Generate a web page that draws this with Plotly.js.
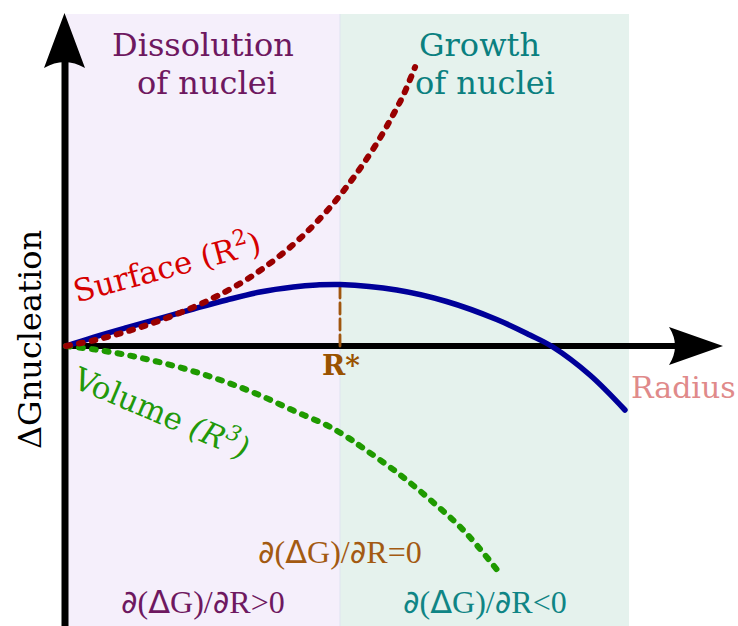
<!DOCTYPE html>
<html>
<head>
<meta charset="utf-8">
<script src="https://cdn.plot.ly/plotly-3.0.1.min.js"></script>
<style>
html,body{margin:0;padding:0;background:#fff;}
#chart{width:738px;height:626px;}
#chart .scatterlayer path.js-line{stroke-linecap:round !important;}
</style>
</head>
<body>
<div id="chart"></div>
<script>
// ---- Data (radius R in units of R*, free energy in arbitrary units) ----
const surfaceR = [0, 0.0996, 0.222, 0.343, 0.465, 0.550, 0.647, 0.733, 0.830, 0.903, 0.976, 1.036, 1.085, 1.146, 1.194, 1.231, 1.274];
const surfaceG = [0, 0.055, 0.145, 0.255, 0.388, 0.498, 0.644, 0.803, 1.016, 1.206, 1.426, 1.635, 1.821, 2.080, 2.313, 2.508, 2.790];

const totalR = [0, 0.0996, 0.2215, 0.343, 0.4646, 0.5865, 0.708, 0.8296, 0.915, 1.0, 1.207, 1.389, 1.572, 1.693, 1.777, 1.912, 2.040];
const totalG = [0, 0.087, 0.184, 0.277, 0.370, 0.460, 0.540, 0.590, 0.610, 0.615, 0.560, 0.445, 0.265, 0.110, -0.010, -0.290, -0.640];

const volumeR = [0, 0.0996, 0.222, 0.343, 0.465, 0.587, 0.708, 0.830, 0.952, 1.025, 1.085, 1.207, 1.328, 1.450, 1.578];
const volumeG = [0, -0.033, -0.090, -0.163, -0.253, -0.363, -0.493, -0.646, -0.793, -0.909, -1.022, -1.262, -1.535, -1.841, -2.254];

const criticalR = [1, 1];
const criticalG = [0, 0.59];

const regionEdges = [0, 1, 2.055];   // dissolution | growth
const regionLabels = ["Dissolution", "of nuclei", "Growth", "of nuclei"];
const derivLabels = ["∂(ΔG)/∂R>0", "∂(ΔG)/∂R=0", "∂(ΔG)/∂R<0"];

// ---- layout helpers: pixel -> data ----
const X0 = 66, SX = 274, Y0 = 346, SY = 100;
const dx = p => (p - X0) / SX;
const dy = p => (Y0 - p) / SY;

const SERIF = "DejaVu Serif";
function dtext(s){
  return s.replace(/∂/g,'<span style="font-family:DejaVu Sans">∂</span>')
          .replace(/Δ/g,'<span style="font-family:DejaVu Sans">Δ</span>');
}

const traces = [
  {x: criticalR, y: criticalG, mode:'lines', line:{color:'#a0560e', width:2.8, dash:'11px,5px'}, hoverinfo:'skip'},
  {x: volumeR, y: volumeG, mode:'lines', line:{color:'#1f9a00', width:6, dash:'4px,9px', shape:'spline'}, hoverinfo:'skip'},
  {x: totalR, y: totalG, mode:'lines', line:{color:'#000099', width:5.5, shape:'spline'}, hoverinfo:'skip'},
  {x: surfaceR, y: surfaceG, mode:'lines', line:{color:'#990000', width:6, dash:'4px,9px', shape:'spline'}, hoverinfo:'skip'}
];

const shapes = [
  {type:'rect', layer:'below', xref:'x', yref:'y', x0:regionEdges[0], x1:regionEdges[1], y0:dy(640), y1:dy(14), fillcolor:'#f5effb', line:{width:0}},
  {type:'rect', layer:'below', xref:'x', yref:'y', x0:regionEdges[1], x1:regionEdges[2], y0:dy(640), y1:dy(14), fillcolor:'#e5f2ed', line:{width:0}},
  {type:'line', layer:'below', xref:'x', yref:'y', x0:regionEdges[1], x1:regionEdges[1], y0:dy(640), y1:dy(14), line:{color:'#dfe3f0', width:1}},
  // axes
  {type:'line', layer:'below', xref:'x', yref:'y', x0:dx(65), x1:dx(65), y0:dy(640), y1:dy(60), line:{color:'#000', width:7}},
  {type:'path', layer:'below', xref:'x', yref:'y', fillcolor:'#000', line:{width:0},
   path:`M ${dx(64.5)},${dy(13)} L ${dx(85)},${dy(68)} Q ${dx(64.5)},${dy(56)} ${dx(44)},${dy(68)} Z`},
  {type:'line', layer:'below', xref:'x', yref:'y', x0:dx(62), x1:dx(690), y0:0, y1:0, line:{color:'#000', width:6}},
  {type:'path', layer:'below', xref:'x', yref:'y', fillcolor:'#000', line:{width:0},
   path:`M ${dx(723)},${dy(346)} L ${dx(669)},${dy(365)} Q ${dx(681)},${dy(346)} ${dx(669)},${dy(327)} Z`}
];

function ann(text, px, py, size, color, extra){
  return Object.assign({text:text, x:dx(px), y:dy(py), xref:'x', yref:'y', showarrow:false,
    xanchor:'center', yanchor:'middle', font:{family:SERIF, size:size, color:color}}, extra||{});
}

const annotations = [
  ann(regionLabels[0], 203, 45, 32, '#6e1860'),
  ann(regionLabels[1], 207, 83, 32, '#6e1860'),
  ann(regionLabels[2], 479, 45, 32, '#0a8080'),
  ann(regionLabels[3], 485, 83, 32, '#0a8080'),
  ann('Surface (R<sup>2</sup>)', 166, 265, 31, '#d60000', {textangle:-15}),
  ann('Volume <i>(R<sup>3</sup>)</i>', 162, 411, 31, '#22990a', {textangle:23}),
  ann('<b>R*</b>', 341, 365, 28, '#9a5200'),
  ann('Radius', 683, 387, 30, '#e08a8a'),
  ann('ΔGnucleation', 30, 340, 32, '#000', {textangle:-90}),
  ann(dtext(derivLabels[1]), 340, 552, 32, '#a35a12', {font:{family:'Liberation Serif', size:32, color:'#a35a12'}}),
  ann(dtext(derivLabels[0]), 203, 602, 32, '#6e1860', {font:{family:'Liberation Serif', size:32, color:'#6e1860'}}),
  ann(dtext(derivLabels[2]), 485, 602, 32, '#0f8585', {font:{family:'Liberation Serif', size:32, color:'#0f8585'}})
];

const layout = {
  width:738, height:626, margin:{l:0,r:0,t:0,b:0},
  paper_bgcolor:'#fff', plot_bgcolor:'#fff', showlegend:false,
  xaxis:{range:[dx(0), dx(738)], visible:false, fixedrange:true},
  yaxis:{range:[dy(626), dy(0)], visible:false, fixedrange:true},
  shapes:shapes, annotations:annotations
};

Plotly.newPlot('chart', traces, layout, {staticPlot:true, displayModeBar:false});
</script>
</body>
</html>
